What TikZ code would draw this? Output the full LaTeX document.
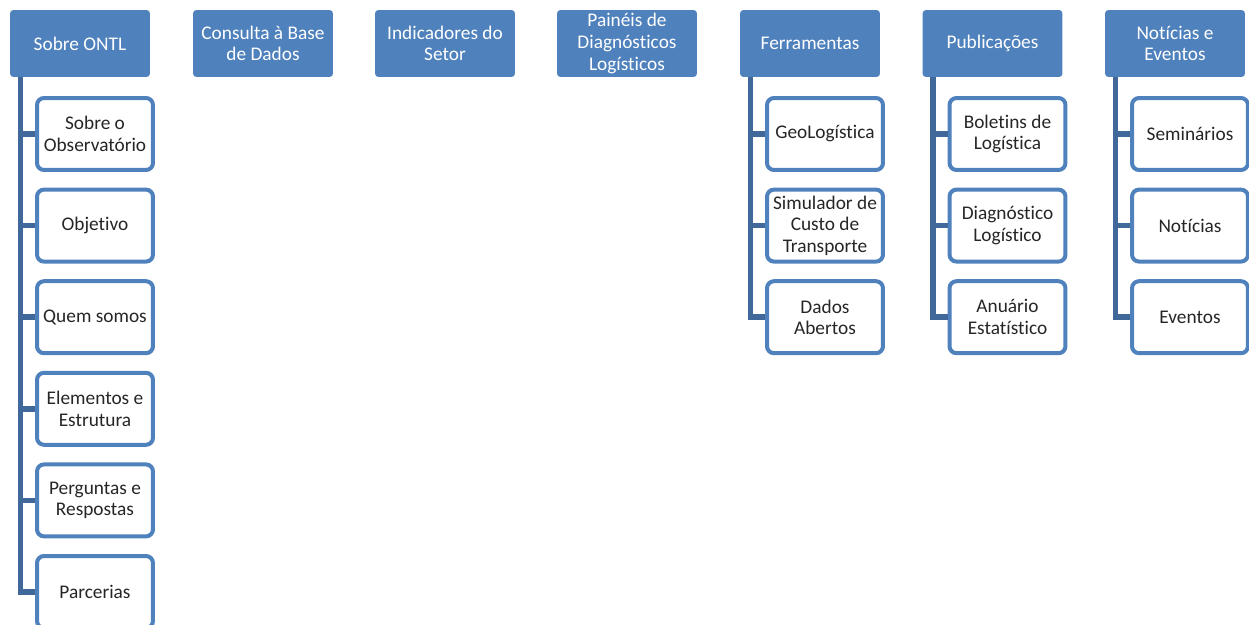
\documentclass[tikz,border=0pt]{standalone}
\usepackage{fontspec}
\setmainfont{Carlito}[Ligatures=NoCommon]
\usetikzlibrary{positioning}
\definecolor{azulTopo}{HTML}{4F81BD}
\definecolor{azulRamo}{HTML}{41689A}

\begin{document}
\begin{tikzpicture}[x=0.02cm, y=-0.02cm,
    topo/.style={fill=azulTopo, text=white, rounded corners=2pt, minimum width=2.8cm,
      minimum height=1.34cm, align=center, inner sep=1pt, font=\fontsize{11}{12.3}\selectfont},
    item/.style={draw=azulTopo, line width=0.08cm, fill=white, rounded corners=0.14cm,
      minimum width=2.32cm, minimum height=1.44cm, align=center, inner sep=1pt,
      text=black!85, font=\fontsize{11}{12.3}\selectfont},
    ramo/.style={draw=azulRamo, line width=0.11cm}]
    \useasboundingbox (0,0) rectangle (1249,625);

    % menu principal
    \foreach \n/\x/\t in {sobre/80/Sobre ONTL, consulta/263/Consulta à Base\\de Dados,
        indic/445/Indicadores do\\Setor, paineis/627/Painéis de\\Diagnósticos\\Logísticos,
        ferr/810/Ferramentas, pub/992.5/Publicações, noticias/1175/Notícias e\\Eventos}
        \node[topo] (\n) at (\x, 43.5) {\t};

    % submenus
    \foreach \i/\t in {1/Sobre o\\Observatório, 2/Objetivo, 3/Quem somos,
        4/Elementos e\\Estrutura, 5/Perguntas e\\Respostas, 6/Parcerias}
        \node[item] (sobre-\i) at (95, {134+91.6*(\i-1)}) {\t};
    \foreach \i/\t in {1/GeoLogística, 2/Simulador de\\Custo de\\Transporte, 3/Dados\\Abertos}
        \node[item] (ferr-\i) at (825, {134+91.6*(\i-1)}) {\t};
    \foreach \i/\t in {1/Boletins de\\Logística, 2/Diagnóstico\\Logístico, 3/Anuário\\Estatístico}
        \node[item] (pub-\i) at (1007.5, {134+91.6*(\i-1)}) {\t};
    \foreach \i/\t in {1/Seminários, 2/Notícias, 3/Eventos}
        \node[item] (noticias-\i) at (1190, {134+91.6*(\i-1)}) {\t};

    % ramos
    \foreach \n/\k in {sobre/6, ferr/3, pub/3, noticias/3} {
        \coordinate (\n-t) at ([xshift=0.22cm]\n.south west);
        \foreach \i in {1,...,\k}
            \draw[ramo] (\n-t) |- (\n-\i.west);
    }
\end{tikzpicture}
\end{document}
